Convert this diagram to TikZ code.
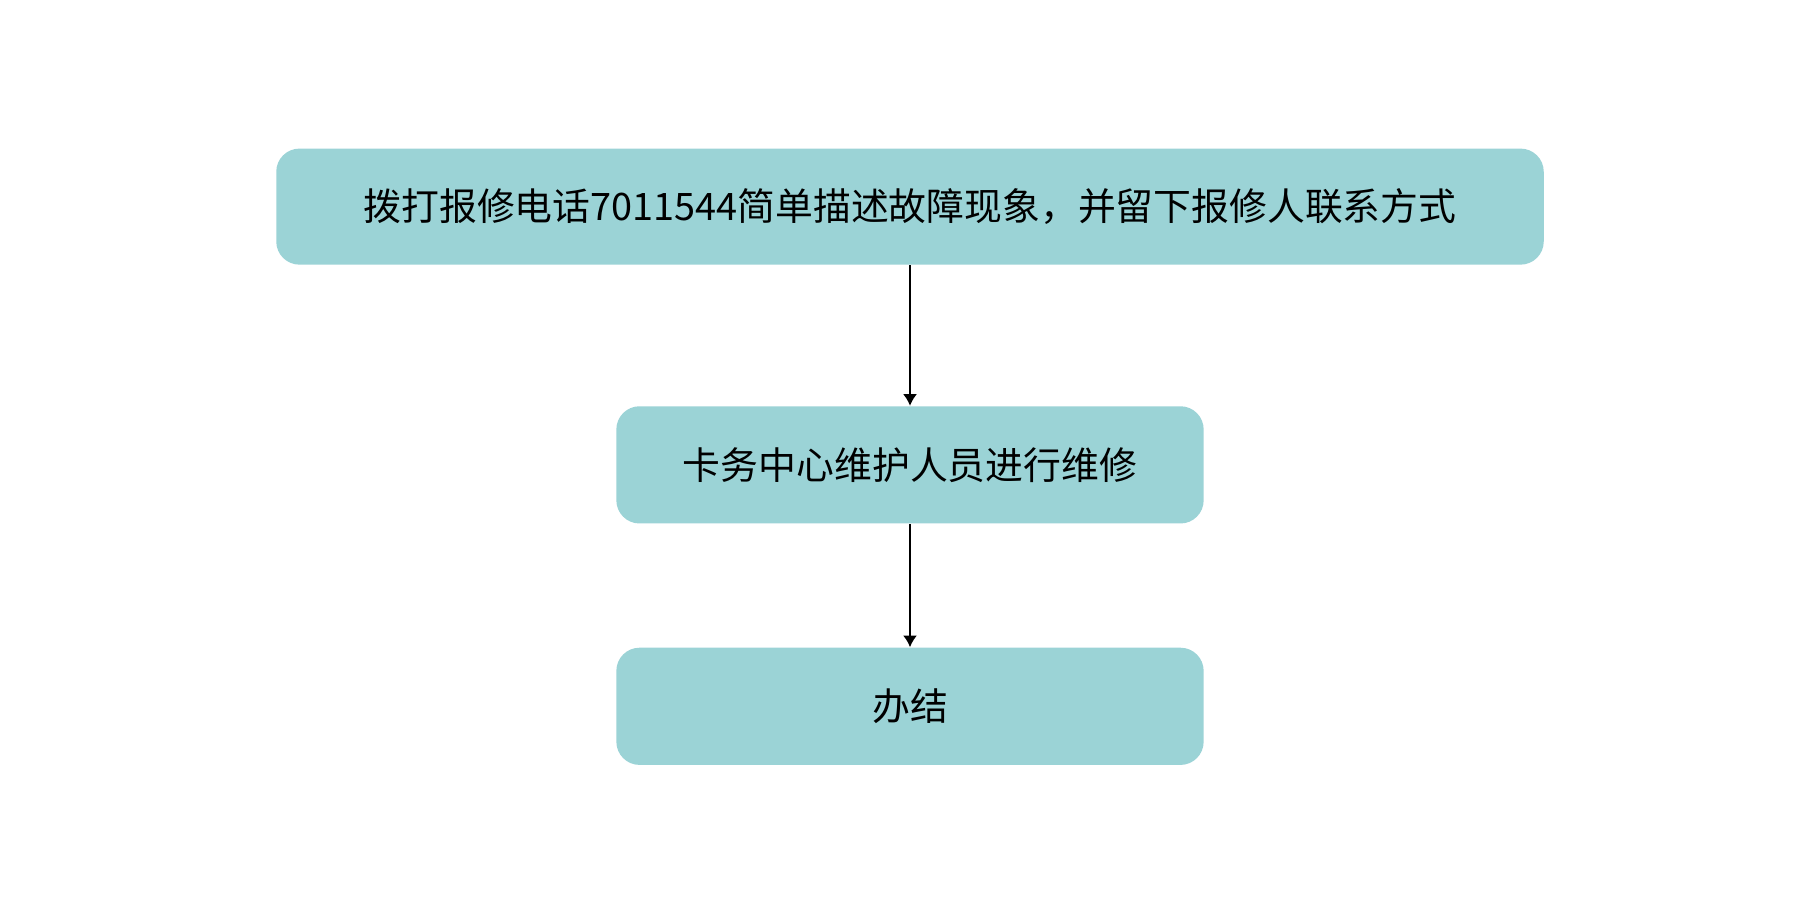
\documentclass[tikz,border=0pt]{standalone}
\usepackage{fontspec}
\usetikzlibrary{arrows.meta}
\setmainfont{Noto Sans CJK SC}
\definecolor{boxc}{HTML}{9BD3D6}
\begin{document}
\begin{tikzpicture}[x=0.5pt,y=-0.5pt,
  box/.style={fill=boxc,rounded corners=10pt,inner sep=0pt,font=\fontsize{16.3pt}{18pt}\selectfont},
  arr/.style={-{Latex[length=5pt,width=6pt]},line width=0.8pt}]
\useasboundingbox (0,0) rectangle (1568,789);
\node[box,minimum width=546pt,minimum height=50pt] (a) at (784,178) {拨打报修电话7011544简单描述故障现象，并留下报修人联系方式};
\node[box,minimum width=253pt,minimum height=50.5pt] (b) at (784,400.5) {卡务中心维护人员进行维修};
\node[box,minimum width=253pt,minimum height=50.5pt] (c) at (784,608.5) {办结};
\draw[arr] (a.south) -- (b.north);
\draw[arr] (b.south) -- (c.north);
\end{tikzpicture}
\end{document}
